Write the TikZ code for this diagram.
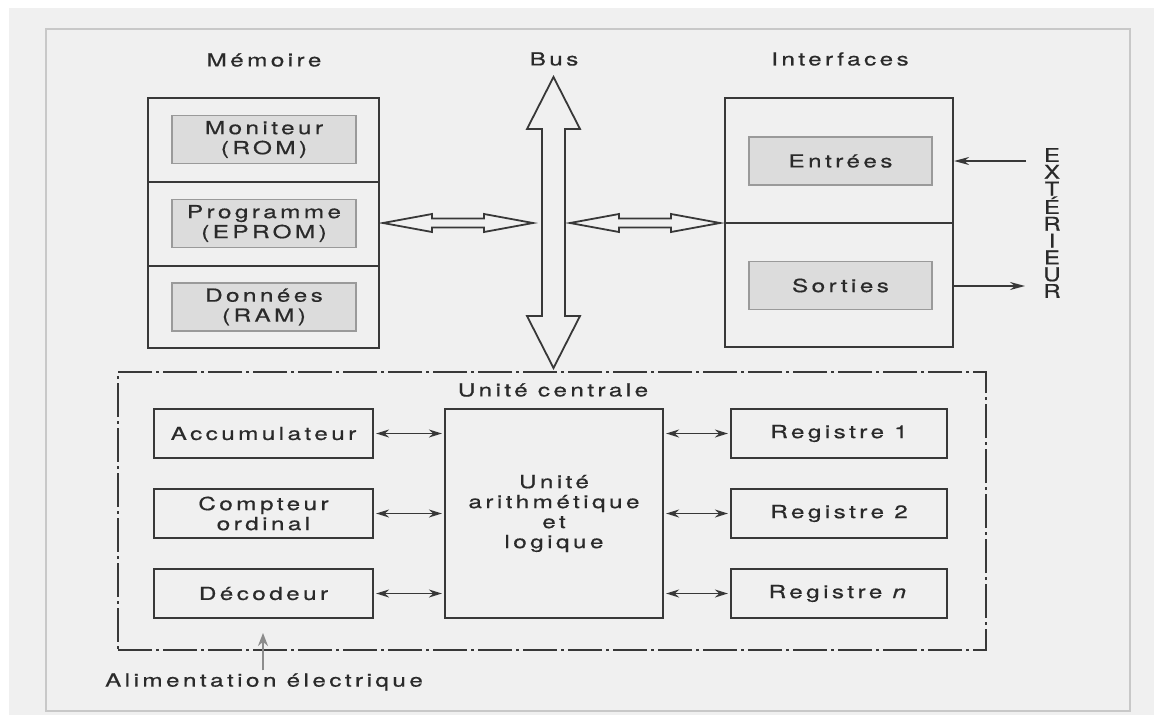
\documentclass[tikz,border=0pt]{standalone}
\usepackage{fontspec}
\setmainfont{TeX Gyre Heros}[FakeStretch=1.35,LetterSpace=19,FakeBold=0.6]
\newfontfamily\plainfont{TeX Gyre Heros}[FakeStretch=1.25,FakeBold=0.6]
\usetikzlibrary{arrows.meta}
\definecolor{bg}{HTML}{F0F0F0}
\definecolor{frame}{HTML}{C8C8C8}
\definecolor{ln}{HTML}{383838}
\definecolor{tx}{HTML}{2A2A2A}
\definecolor{grayfill}{HTML}{DCDCDC}
\definecolor{grayedge}{HTML}{9A9A9A}
\tikzset{
  lbl/.style={text=tx,font=\fontsize{18}{20}\selectfont,inner sep=0pt,align=center},
  blk/.style={draw=ln,line width=2.2pt,fill=bg,inner sep=0pt,text=tx,font=\fontsize{18}{20}\selectfont,align=center},
  gbox/.style={draw=grayedge,line width=1.6pt,fill=grayfill,inner sep=0pt,text=tx,font=\fontsize{18}{20}\selectfont,align=center,minimum height=48pt},
  busline/.style={draw=ln,line width=1.8pt,fill=bg,line join=miter},
  dbl/.style={draw=ln,line width=1.6pt,{Stealth[length=13pt,width=8pt]}-{Stealth[length=13pt,width=8pt]},shorten <=2pt,shorten >=2pt},
  sgl/.style={draw=ln,line width=1.6pt,-{Stealth[length=15pt,width=8pt]}},
  dashdot/.style={draw=ln,line width=2pt,dash pattern=on 34pt off 4pt on 3pt off 4pt},
}
\newcommand{\hhollow}[6]{% x1,x2,y,shaft half,head half,head length
  \draw[busline] (#1,#3) -- (#1+#6,#3-#5) -- (#1+#6,#3-#4) -- (#2-#6,#3-#4) -- (#2-#6,#3-#5) -- (#2,#3) -- (#2-#6,#3+#5) -- (#2-#6,#3+#4) -- (#1+#6,#3+#4) -- (#1+#6,#3+#5) -- cycle;}
\newcommand{\vhollow}[6]{% y1,y2,x,shaft half,head half,head length
  \draw[busline] (#3,#1) -- (#3-#5,#1+#6) -- (#3-#4,#1+#6) -- (#3-#4,#2-#6) -- (#3-#5,#2-#6) -- (#3,#2) -- (#3+#5,#2-#6) -- (#3+#4,#2-#6) -- (#3+#4,#1+#6) -- (#3+#5,#1+#6) -- cycle;}
\begin{document}
\begin{tikzpicture}[x=1pt,y=-1pt]
\useasboundingbox (0,0) rectangle (1154,715);
\fill[white] (0,0) rectangle (1154,715);
\fill[bg] (9,8) rectangle (1154,715);
\draw[frame,line width=1.5pt] (46,29) rectangle (1130,711);

% titles
\node[lbl] (tmem) at (264,60) {Mémoire};
\node[lbl] (tbus) at (554,59) {Bus};
\node[lbl] (tint) at (840,59) {Interfaces};

% memory
\node[blk,minimum width=231pt,minimum height=84pt] (mem1) at (263.5,140) {};
\node[blk,minimum width=231pt,minimum height=84pt] (mem2) at (263.5,224) {};
\node[blk,minimum width=231pt,minimum height=82pt] (mem3) at (263.5,307) {};
\node[gbox,minimum width=184pt] (rom) at (264,139.5) {Moniteur\\(ROM)};
\node[gbox,minimum width=184pt] (eprom) at (264,223.5) {Programme\\(EPROM)};
\node[gbox,minimum width=184pt] (ram) at (264,307) {Données\\(RAM)};

% interfaces
\node[blk,minimum width=228pt,minimum height=125pt] (if1) at (839,160.5) {};
\node[blk,minimum width=228pt,minimum height=124pt] (if2) at (839,285) {};
\node[gbox,minimum width=183pt] (ent) at (840.5,161) {Entrées};
\node[gbox,minimum width=183pt] (sor) at (840.5,285.5) {Sorties};

% bus
\vhollow{77}{368}{553.5}{11.5}{26.5}{52}
\hhollow{383}{533}{223}{4.5}{9}{49}
\hhollow{570}{720}{223}{4.5}{9}{49}

% exterior
\node[text=tx,inner sep=0pt,align=center,font=\plainfont\fontsize{19}{16.8}\selectfont] (ext) at (1052,223) {E\\X\\T\\É\\R\\I\\E\\U\\R};
\coordinate (extin) at (1026,161);
\coordinate (extout) at (1025,286);
\draw[sgl] (extin) -- (if1.east |- extin);
\draw[sgl] (if2.east |- extout) -- (extout);

% central unit
\node[dashdot,minimum width=868pt,minimum height=278pt,inner sep=0pt] (uc) at (552,511) {};
\node[lbl] (tuc) at (553,390) {Unité centrale};
\node[blk,minimum width=219pt,minimum height=49pt] (acc) at (263.5,433.5) {Accumulateur};
\node[blk,minimum width=219pt,minimum height=49pt] (cpt) at (263.5,513.5) {Compteur\\ordinal};
\node[blk,minimum width=219pt,minimum height=49pt] (dec) at (263.5,593.5) {Décodeur};
\node[blk,minimum width=218pt,minimum height=209pt] (alu) at (554,513.5) {Unité\\arithmétique\\et\\logique};
\node[blk,minimum width=216pt,minimum height=49pt] (r1) at (839,433.5) {Registre 1};
\node[blk,minimum width=216pt,minimum height=49pt] (r2) at (839,513.5) {Registre 2};
\node[blk,minimum width=216pt,minimum height=49pt] (rn) at (839,593.5) {Registre \textit{n}};

\draw[dbl] (acc.east) -- (alu.west |- acc.east);
\draw[dbl] (cpt.east) -- (alu.west |- cpt.east);
\draw[dbl] (dec.east) -- (alu.west |- dec.east);
\draw[dbl] (alu.east |- r1.west) -- (r1.west);
\draw[dbl] (alu.east |- r2.west) -- (r2.west);
\draw[dbl] (alu.east |- rn.west) -- (rn.west);

% power
\node[lbl] (alim) at (264,682) {Alimentation électrique};
\coordinate (alimtip) at (263,633);
\draw[draw=gray!90,line width=1.8pt,-{Stealth[length=13pt,width=10pt]}] (alim.north -| alimtip) ++(0,-3) -- (alimtip);
\end{tikzpicture}
\end{document}
